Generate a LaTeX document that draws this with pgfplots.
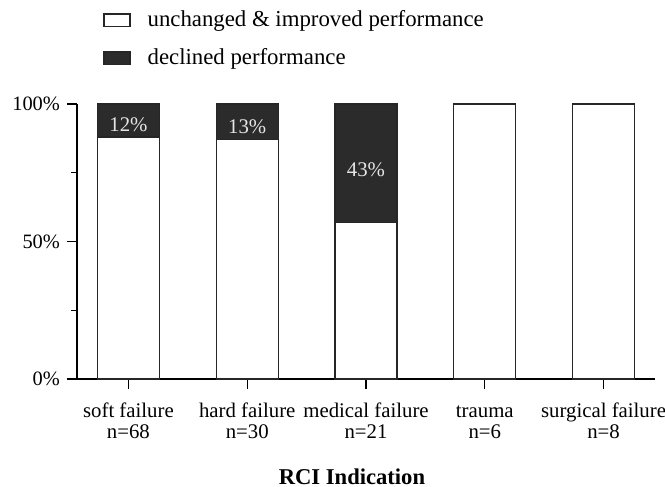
\documentclass[border=0pt]{standalone}
\usepackage{pgfplots}
\pgfplotsset{compat=1.18}
\usepackage{fontspec}
\setmainfont{Liberation Serif}
\definecolor{dark}{HTML}{2B2B2B}
\begin{document}
\begin{tikzpicture}
\begin{axis}[
  name=ax,
  width=289pt, height=137.5pt, scale only axis,
  ybar stacked, bar width=31pt,
  xmin=-0.433, xmax=4.433, ymin=0, ymax=100,
  axis lines=left, axis line style={-, line width=0.6pt},
  xtick={0,1,2,3,4},
  xticklabels={{\strut soft failure\\\strut n=68},{\strut hard failure\\\strut n=30},{\strut medical failure\\\strut n=21},{\strut trauma\\\strut n=6},{\strut surgical failure\\\strut n=8}},
  xticklabel style={align=center, font=\fontsize{10.4}{10.5}\selectfont, yshift=-3.5pt},
  ytick={0,50,100}, minor ytick={25,75},
  yticklabels={0\%,50\%,100\%},
  yticklabel style={font=\fontsize{10.2}{12}\selectfont},
  tick align=outside, major tick length=5pt, minor tick length=3pt,
  tick style={black, line width=0.6pt},
  xlabel={\textbf{RCI Indication}},
  xlabel style={font=\fontsize{11.3}{13}\selectfont, yshift=-5pt, xshift=-7pt},
  legend style={draw=none, at={(axis description cs:0.045,1.355)}, anchor=north west,
    font=\fontsize{11.4}{13}\selectfont, row sep=5.5pt, inner sep=0pt,
    nodes={inner sep=2pt}, column sep=6.5pt},
  legend cell align=left,
  legend image code/.code={\draw[#1, line width=0.6pt] (0pt,-3.2pt) rectangle (13pt,3.2pt);},
  clip=false,
]
\addplot[draw=black!85, fill=white, line width=0.6pt] coordinates {(0,88) (1,87) (2,57) (3,100) (4,100)};
\addplot[draw=black!85, fill=dark, line width=0.6pt] coordinates {(0,12) (1,13) (2,43)};
\legend{unchanged \& improved performance, declined performance}
\coordinate (l1) at (axis cs:0,92.6);
\coordinate (l2) at (axis cs:1,91.6);
\coordinate (l3) at (axis cs:2,76);
\end{axis}
\node[text=white!90!black, font=\fontsize{10.4}{12}\selectfont] at (l1) {12\%};
\node[text=white!90!black, font=\fontsize{10.4}{12}\selectfont] at (l2) {13\%};
\node[text=white!90!black, font=\fontsize{10.4}{12}\selectfont] at (l3) {43\%};
\pgfresetboundingbox
\path ([xshift=-38.5pt,yshift=-54pt]ax.south west) rectangle ([xshift=294pt,yshift=189.5pt]ax.south west);
\end{tikzpicture}
\end{document}
